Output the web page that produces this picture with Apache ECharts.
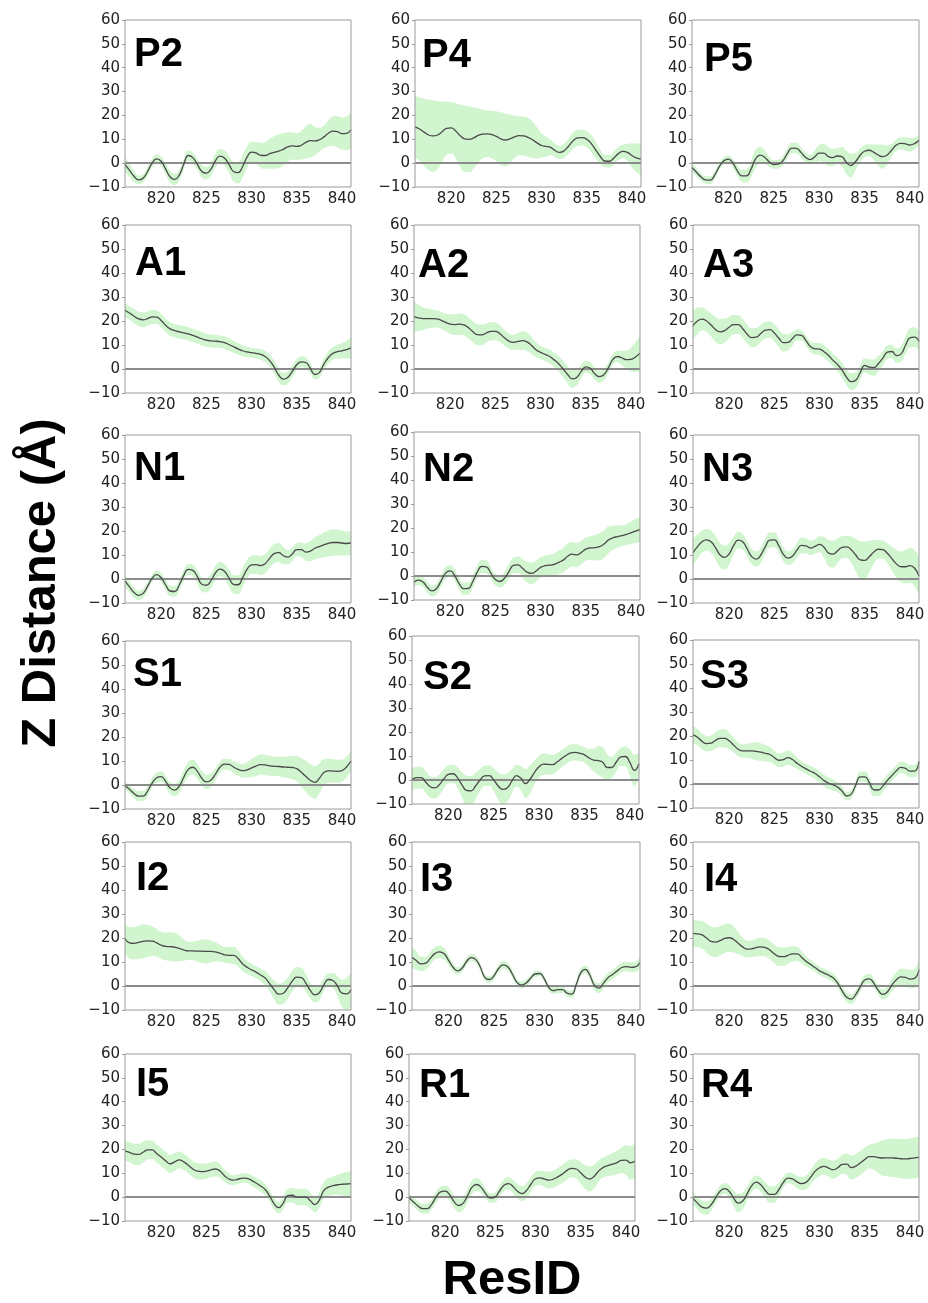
<!DOCTYPE html>
<html><head><meta charset="utf-8">
<script src="https://cdn.jsdelivr.net/npm/echarts@6/dist/echarts.min.js"></script>
<style>html,body{margin:0;padding:0;background:#fff}#c{width:928px;height:1303px}</style>
</head><body><div id="c"></div>
<script>
// ---------- data ----------
const resid = ['816','816.5','817','817.5','818','818.5','819','819.5','820','820.5',
 '821','821.5','822','822.5','823','823.5','824','824.5','825','825.5',
 '826','826.5','827','827.5','828','828.5','829','829.5','830','830.5',
 '831','831.5','832','832.5','833','833.5','834','834.5','835','835.5',
 '836','836.5','837','837.5','838','838.5','839','839.5','840','840.5','841'];
const xTicks = ['820','825','830','835','840'];
const yTicks = [-10, 0, 10, 20, 30, 40, 50, 60];
const panelNames = ['P2','P4','P5','A1','A2','A3','N1','N2','N3','S1','S2','S3','I2','I3','I4','I5','R1','R4'];

const P2_mean = [-0.5,-3,-5.5,-7,-6.3,-3.5,0,1.8,0.8,-2.5, -5.8,-6.8,-5,-0.5,3.2,2.3,-0.5,-3.5,-4.2,-2.5, 1,2.9,2.2,-0.5,-3.5,-4,-1.5,2.5,4.6,4.3, 3.3,3.2,4,4.5,5,5.8,6.8,7.2,7,7.5, 8.7,9.4,9.3,9.8,11,12.5,13.4,13.2,12.4,12.5, 14];
const P2_sd = [3,2.8,2.4,1.8,1.8,1.8,1.8,1.8,2,2.2, 2.4,2.4,2.3,2.2,2.1,2.2,2.4,2.6,2.7,2.8, 2.9,3,3.2,3.6,4.2,4.5,4.6,4.5,4.4,4.6, 5.2,5.6,6.2,6.8,7,6.8,6.2,5.8,5.6,6, 6.8,7,6,5,4.8,5.5,6.2,6.6,6.7,7, 7.5];

const P4_mean = [15.2,14.3,13,11.8,11.4,11.8,13.2,14.6,14.8,13.5, 11.5,10.2,10,10.6,11.6,12.2,12.3,12,11.2,10.2, 9.7,10.2,11,11.5,11.4,10.8,9.8,8.5,7.4,7, 6.6,5.3,4.5,5.2,7.2,9.4,10.6,10.7,10,8.2, 5.5,2.8,0.9,0.8,2.2,4,4.9,4.5,3.2,2.2, 1.7];
const P4_sd = [12.8,13.3,14,14.8,15,14.2,12.5,11.2,10.8,11.6, 13,14,13.8,12.8,11.4,10.2,9.8,10,10.5,11, 11,10.2,9,8.2,8.2,8.2,7.6,6.5,5,4.2, 3.2,2.8,2.8,3,3.2,3.4,3.4,3.3,3.4,3.6, 3.4,3,2.6,2.6,2.8,2.8,2.8,3.6,5,6, 7];

const P5_mean = [-1.8,-3.8,-5.8,-7,-7.1,-5,-1.5,1,1.7,0, -3.2,-5.3,-5.3,-2.5,1.8,3.4,2.5,0.6,-0.6,-0.4, 1,4,6.3,6.2,4.5,2.5,1.5,2.6,4.2,4.2, 2.8,2.3,3,2.7,0.3,-1,0.6,3.2,5,5.4, 4.6,3.4,2.7,3.4,5.5,7.6,8.3,8.1,7.6,8.2, 9.6];
const P5_sd = [1.6,1.6,1.6,1.6,1.6,1.6,1.5,1.5,1.5,1.8, 2.2,2.5,2.8,3.4,3.8,3.5,2.8,2.2,1.8,1.8, 2,2.2,2.2,2.2,2.1,2,2,2.6,3.4,3.8, 4,3.6,3.3,4,5,5,3.6,2.8,2.5,2.5, 3.2,4.4,5,4,2.6,2.4,2.6,2.8,2.8,2.5, 2.3];

const A1_mean = [24.5,23.3,22,20.9,20.5,21,21.7,21.6,20.2,18.2, 16.7,16,15.5,15.1,14.6,14,13.3,12.6,12,11.7, 11.6,11.4,11,10.2,9.3,8.4,7.6,7.1,6.8,6.5, 6.1,5.2,3.5,0.8,-2.5,-4.2,-3.5,-1,1.8,3, 2.7,0.3,-2.3,-1.5,2,4.8,6.5,7.2,7.6,8.1, 8.8];
const A1_sd = [2.8,2.8,2.9,3,3.1,3,2.9,2.8,2.8,2.8, 2.8,2.8,2.8,2.8,2.8,2.8,2.8,2.8,2.7,2.7, 2.7,2.6,2.6,2.6,2.5,2.4,2.3,2.2,2.1,2.1, 2.2,2.3,2.5,2.7,2.8,2.6,2.5,2.5,2.4,2.3, 2.2,2.1,2,2.1,2.3,2.5,2.6,2.8,3.2,3.7, 4.2];

const A2_mean = [21.8,21.3,21,21,21,20.9,20.3,19.4,18.7,18.5, 18.7,18.4,17.3,15.6,14.3,14.2,15,15.7,15.7,14.7, 13,11.6,11.1,11.5,11.8,11.3,9.8,8,6.9,6.1, 5.2,3.8,2.2,0,-2.3,-4.1,-3.5,-1,0.9,0.3, -2,-3.2,-2.4,0.5,4,5.2,4.6,3.9,4,5, 6.6];
const A2_sd = [6.3,5.5,4.7,4.2,3.8,3.6,3.5,3.7,4.1,4.3, 4.4,4.4,4.4,4.4,4.4,4.3,4,3.8,3.7,3.5, 3.3,3.2,3.2,3.5,3.9,3.9,3.5,3.1,2.8,2.8, 2.9,3,3.2,3.4,3.6,3.7,3.4,2.8,2.5,2.5, 2.5,2.5,2.4,2.2,2.2,2.4,3,3.8,5,6.2, 7.2];

const A3_mean = [18,20,20.8,20,18.3,16.4,15.5,16,17.4,18.5, 18.5,16.8,14.5,13.1,13.3,14.8,16.2,16.4,15,12.8, 11,11.1,12.7,14.2,14,11.8,9.3,8.4,8.3,7.2, 5.6,3.6,1.8,-0.5,-3.5,-5.3,-4.7,-1.5,1.5,0.8, 0.6,2.2,4.5,7,7.3,5.6,6.2,9.8,13,13.3, 11.5];
const A3_sd = [6,5.5,4.8,4.6,4.8,5.2,5.3,5,4.5,4, 3.9,3.9,3.9,3.9,3.8,3.6,3.5,3.5,3.6,3.7, 3.7,3.4,2.8,2.3,2.1,2.1,2.3,2.4,2.5,2.6, 2.6,2.7,2.9,3.1,3.3,3.5,3.3,3,3,3.2, 3.4,3.2,2.9,2.8,2.8,3,3.3,3.6,4,4.1, 4.2];

const N1_mean = [-0.8,-3.3,-5.6,-6.8,-6,-3,0.3,1.8,0.5,-2.5, -5,-5.2,-2.5,1.5,4,3.6,1,-2.2,-2.6,-0.8, 2.5,4.1,3.2,0.5,-2.2,-2.4,0.5,4,5.9,6, 5.6,6.4,8.6,10.6,11,9.8,9.1,10.4,12.2,12.2, 11.2,11.6,12.8,13.5,14.2,14.8,15.2,15.2,15,14.8, 15];
const N1_sd = [2.4,2.3,2.1,2,1.9,1.8,1.7,1.7,1.9,2.1, 2.2,2.2,2.2,2.2,2.2,2.4,2.7,3,3,3, 3,3,3.2,3.5,3.8,3.9,3.9,3.8,3.8,3.9, 4,4,4,4,4,3.5,3,2.8,2.7,3, 3.6,4.2,4.6,4.8,5.2,5.4,5.5,5.4,5.2,5, 5];

const N2_mean = [-2.6,-1.7,-2.5,-4.8,-6.2,-5.2,-2,1.2,2.1,0.2, -3.2,-5.3,-5.2,-2.3,1.6,4,3.8,1.2,-1.5,-2.3, -1,1.8,4.4,4.6,3.2,1.6,1.1,2.1,3.6,4.3, 4.5,4.8,5.7,6.6,8.2,9.1,8.8,9.8,11.2,11.7, 11.8,12.2,13.2,15,15.9,16.4,16.8,17.3,18,18.7, 19.3];
const N2_sd = [2,2,2.1,2.2,2.3,2.3,2.3,2.4,2.4,2.4, 2.5,2.5,2.5,2.6,2.7,2.8,2.8,2.6,2.4,2.5, 2.8,3.1,3.3,3.5,3.9,4.3,4.5,4.4,4.2,4.2, 4.4,4.6,4.9,5.1,5.2,5.1,5,4.9,4.8,5, 5.3,5.6,5.8,5.6,5,4.6,4.3,4.4,4.7,5, 5.2];

const N3_mean = [11,13.5,15.5,16.3,15.5,13,10,9,10.5,14, 16.2,15.5,12.5,9.3,8.3,10,13.5,16.2,16.3,13.8, 10.3,8.7,9.5,12,14,13.8,12.9,13.6,14.4,13.2, 10.8,10.4,11.8,13.2,13.4,12.2,10,8,7.8,9.3, 11.2,12.4,12.2,10.7,8.5,6.3,5.1,5.1,5.6,4.6, 1.2];
const N3_sd = [5.5,5,4.6,4.5,4.6,4.9,5.1,5,4.5,3.8, 3.4,3.3,3.2,3.2,3.2,3.2,3.2,3.2,3.1,3, 2.9,2.8,2.9,3.1,3.3,3.2,3,3,3.4,4.4, 5.4,5.6,5.2,4.6,4.6,5.5,6.8,7.8,7.8,6.5, 5,4,3.8,4.2,5,5.8,6.4,7,7.3,7.6, 8];

const S1_mean = [-0.3,-1.8,-3.5,-4.6,-4.6,-2.5,0.8,3,3.5,1.5, -1.3,-2.1,-0.5,3.2,6.5,7.4,5.7,2.8,1.3,2, 4.5,7.4,8.7,8.6,7.5,6.5,6,6.3,7.1,7.9, 8.5,8.4,8,7.8,7.7,7.5,7.4,7.3,6.8,5.3, 3.6,2,1.1,2.8,5.2,5.9,5.8,5.7,6,7.5, 10];
const S1_sd = [1.6,1.7,1.9,2.1,2.1,2.1,2.1,2.1,2.1,2.3, 2.5,2.6,2.8,3,3.1,3.1,3.1,3,3,2.8, 2.5,2.3,2.2,2.3,2.5,2.7,2.8,3.2,3.7,4.1, 4.2,4.2,4.1,4.1,4.1,4.3,4.6,4.9,5.3,5.9, 6.4,6.8,6.8,6.2,5.5,5,4.9,4.8,4.6,4.4, 4.3];

const S2_mean = [0.2,1,1,-0.8,-2.8,-3.3,-2,0.4,2.3,2.6, 1,-2,-4.3,-4.5,-2.5,0,1.7,1.8,0,-2.5, -3.9,-3.2,-0.5,1.8,0.7,-1.5,0.3,3.2,5.5,6.6, 6.5,6.4,7.6,9,10.3,11.3,11.5,11.1,10.5,9.2, 8.3,8.1,7.4,5.2,5.2,7.5,9.6,9.8,7.2,4, 6.8];
const S2_sd = [4.5,4.5,4.5,4.5,4.5,4.5,4.3,4,3.8,3.8, 4.3,5.3,6.2,6.2,5.5,4.6,4.3,4.3,4.8,5.6, 6.2,6,5,4.5,5,6,5.8,5,4.6,4.5, 4.3,4,3.8,3.6,3.5,3.5,3.4,3.3,3.3,3.8, 4.8,6,6.3,5.5,4.5,4,3.8,4.2,5.5,6.6, 4.5];

const S3_mean = [20.6,19.5,17.8,16.8,17,18.2,19,19,18,16.2, 14.5,13.8,13.8,13.8,13.6,13.3,12.8,12.3,11,9.9, 10.2,11,10.2,8.7,7.4,6.3,5.3,4.4,3,1.4, 0.3,-0.4,-1.3,-3,-5,-4.2,-0.5,3,3,0.6, -2.4,-2.5,-0.8,1.5,3.5,5.5,6.9,6.5,5.4,5.4, 9.3];
const S3_sd = [3.6,3.5,3.3,3.2,3.3,3.5,3.7,3.8,3.5,3.1, 2.9,2.8,3,3.4,3.8,3.7,3.4,3.1,2.9,2.8, 2.9,3,2.8,2.4,2.1,2.1,2.2,2.3,2.4,2.5, 2.5,2.3,2.1,1.9,1.8,1.8,2,2.1,2.2,2.4, 2.5,2.5,2.5,2.4,2.3,2.3,2.4,2.5,2.6,2.6, 2.6];

const I2_mean = [19.8,18,17.8,18.2,18.6,18.8,18.7,18,17,16.5, 16.4,16.2,15.7,15,14.6,14.6,14.5,14.5,14.4,14.4, 14.2,13.7,13,12.8,12.8,11.5,9.3,7.8,6.7,5.8, 4.6,3.3,1,-1.5,-3.4,-3,-0.8,2,3.7,3.5, 1.2,-1.8,-3.7,-2.8,0.5,2.7,2.3,0,-3,-3.3, -1.5];
const I2_sd = [6.2,6.5,6.7,6.9,7,6.7,6.2,5.8,5.6,5.8, 6,6,5.4,4.5,3.8,3.9,4.4,4.9,5,4.6, 4,3.5,3.3,3.4,3.6,3.4,3,2.7,2.5,2.5, 2.7,2.9,3.3,3.9,4.4,4.5,4.4,4.3,4.2,4, 3.6,3.3,3.2,3,2.7,2.5,3,4.2,5.6,6.8, 7];

const I3_mean = [12,10.5,9.2,9.5,11.5,13.5,14.2,13.5,10.8,7.8, 6.3,7.5,10.3,11.8,11,7.8,3.5,2.7,4.3,7.3, 8.8,8,5,1.5,0.4,1.2,3.2,5,5.2,3, -0.6,-1.9,-1.5,-1.5,-3,-3.4,0.5,5.5,6.9,4.5, 0.3,-0.9,1.2,3.5,4.8,6.3,7.7,8.1,7.8,8, 9.8];
const I3_sd = [4.5,3.8,3,2.7,2.6,2.6,2.6,2.4,2,1.7, 1.5,1.5,1.5,1.5,1.5,1.5,1.4,1.4,1.5,1.6, 1.6,1.6,1.5,1.5,1.5,1.4,1.3,1.2,1.2,1.3, 1.4,1.4,1.4,1.4,1.4,1.5,1.6,1.6,1.6,1.8, 2,2.1,2,2,2,2,2,2,2.1,2.2, 2.3];

const I4_mean = [21.9,21.7,21.3,20,18.6,18.3,18.9,19.8,20.1,19.4, 17.8,16.3,15.4,15.5,16,16.3,16,15,13.4,12.3, 12.2,12.8,13.4,13.4,12,10.3,9,7.7,6.3,5.4, 4.5,3.4,1.2,-2,-4.7,-5.5,-3.6,-0.4,2.5,3, 1.2,-1.8,-3.5,-2.5,0.4,2.6,3.8,3.6,2.9,3.2, 6.8];
const I4_sd = [5.5,5.6,5.8,6,6.2,6.2,6.1,6,5.9,5.4, 4.6,3.9,3.5,3.5,3.7,3.8,3.8,3.8,3.9,3.9, 3.8,3.5,3.2,3,2.6,2.2,1.9,1.8,1.8,1.8, 1.8,1.8,1.9,2,2,2,2,2,2,2, 2,2,2.1,2.3,2.7,3.1,3.4,3.6,3.8,4, 4.3];

const I5_mean = [19.4,18.8,18,17.9,18.8,19.8,19.8,18.3,16.8,15.2, 14,14.8,15.6,14.8,13.4,11.8,10.9,10.7,10.9,11.4, 11.8,11,9,7.6,7.1,7.5,8,7.9,7,5.9, 4.7,3.2,0.5,-2.8,-4.4,-2.5,0.6,0.8,0,0, 0,-1.5,-3.1,-1.2,2.8,4.2,4.8,5.2,5.4,5.5, 5.7];
const I5_sd = [4,4.2,4.4,4.5,4.3,4,3.8,3.8,3.8,3.8, 3.8,3.7,3.5,3.4,3.4,3.4,3.4,3.3,3.2,3.1, 3.1,2.9,2.6,2.3,2.1,2,2,2,2.2,2.3, 2.4,2.4,2.4,2.4,2.4,2.6,2.8,3,3.3,3.5, 3.5,3.3,3.2,3.3,3.5,3.7,3.9,4.2,4.6,5, 5.3];

const R1_mean = [-0.3,-2,-3.7,-4.8,-4.8,-3,0,2.2,2.5,1, -2,-3.5,-2.5,0.8,4.3,5.3,4,1.4,-0.4,0, 2.5,5,5.7,4.5,2.5,1.5,2.8,5.5,7.7,8.1, 7.6,7.1,7.6,8.6,9.8,11.2,12.1,11.8,10.2,8.4, 7.6,8.8,11,12.5,13.2,13.8,14.5,15.4,15.5,14.4, 15.2];
const R1_sd = [1.8,1.9,2,2,2.1,2.2,2.3,2.3,2.3,2.5, 2.7,2.8,2.8,2.8,2.8,2.7,2.4,2.1,2,2.1, 2.3,2.5,2.6,2.8,3.1,3.2,3.1,3,2.9,3, 3.3,3.5,3.6,3.7,3.8,3.8,3.8,4,4.5,5, 5.2,4.9,4.4,4.2,4.4,4.7,4.9,5.4,6.2,7, 7.5];

const R4_mean = [-0.5,-2.5,-4.2,-4.6,-3.2,-0.3,2.5,3.6,2.5,-0.4, -2.5,-1.6,1.5,4.8,6.3,5.2,2.8,1.2,1.2,3.2, 6.2,8,7.7,6.4,5.7,6.2,8.3,10.8,12.3,12.9, 12.2,11.5,12.3,13.7,13.8,12.4,13,14.3,15.8,17, 17,16.6,16.4,16.5,16.5,16.3,16.1,16,16.2,16.5, 16.7];
const R4_sd = [2.5,2.6,2.8,2.8,2.6,2.4,2.2,2.2,2.6,3.3, 3.8,3.6,3,2.8,2.8,3,3.3,3.5,3.4,2.8, 2.3,2.2,2.4,2.6,2.8,2.9,3.1,3.3,3.5,3.5, 3.6,3.8,3.8,4,4.5,5,5,5,5,5, 5.5,6.5,7.4,7.8,8,8.2,8.3,8.4,8.5,8.6, 8.7];

const means = [P2_mean,P4_mean,P5_mean,A1_mean,A2_mean,A3_mean,N1_mean,N2_mean,N3_mean,S1_mean,S2_mean,S3_mean,I2_mean,I3_mean,I4_mean,I5_mean,R1_mean,R4_mean];
const sds = [P2_sd,P4_sd,P5_sd,A1_sd,A2_sd,A3_sd,N1_sd,N2_sd,N3_sd,S1_sd,S2_sd,S3_sd,I2_sd,I3_sd,I4_sd,I5_sd,R1_sd,R4_sd];

// ---------- layout (pixels): grid [left, top, width, height], label [left, capTop] ----------
const layout = [
 {g:[125,20,226,167],  lab:[135,38]},
 {g:[415,20,226,167],  lab:[423,39]},
 {g:[692,20,227,167],  lab:[705,43]},
 {g:[125,225,226,168], lab:[136,247]},
 {g:[414,225,226,168], lab:[419,249]},
 {g:[693,225,226,168], lab:[704,249]},
 {g:[125,435,226,168], lab:[135,452]},
 {g:[414,432,226,168], lab:[424,453]},
 {g:[693,435,226,168], lab:[703,453]},
 {g:[125,641,226,168], lab:[134,658]},
 {g:[412,636,227,168], lab:[424,661]},
 {g:[693,640,226,168], lab:[701,660]},
 {g:[125,842,226,168], lab:[137,862]},
 {g:[412,842,228,168], lab:[421,863]},
 {g:[693,842,226,168], lab:[705,863]},
 {g:[125,1054,226,167],lab:[137,1068]},
 {g:[409,1054,226,167],lab:[420,1069]},
 {g:[693,1054,226,167],lab:[702,1069]}
];

// ---------- styles ----------
const BAND = '#d1f5ce';
const LINE = '#4a4a4a';
const ZERO = '#8c8c8c';
const FRAME = '#9a9a9a';
const TXT = '#222';
const TICKFONT = 'DejaVu Sans';

const grids = [], xAxes = [], yAxes = [], series = [], graphics = [];
layout.forEach((l, i) => {
  grids.push({left:l.g[0], top:l.g[1], width:l.g[2], height:l.g[3], show:true,
    borderColor:FRAME, borderWidth:1, backgroundColor:'rgba(0,0,0,0)', z:10});
  xAxes.push({type:'category', gridIndex:i, data:resid, boundaryGap:false,
    axisLine:{show:false}, axisTick:{show:false}, splitLine:{show:false},
    axisLabel:{interval:(idx, v) => xTicks.indexOf(v) >= 0, fontSize:15, color:TXT, fontFamily:TICKFONT, margin:5}});
  yAxes.push({type:'value', gridIndex:i, min:yTicks[0], max:yTicks[yTicks.length-1], interval:10,
    axisLine:{show:false}, axisTick:{show:true, length:3, lineStyle:{color:FRAME}}, splitLine:{show:false},
    axisLabel:{fontSize:15, color:TXT, fontFamily:TICKFONT, margin:5,
      formatter: v => v < 0 ? '\u2212' + Math.abs(v) : String(v)}});
  const m = means[i], s = sds[i];
  const lo = m.map((v, j) => +(v - s[j]).toFixed(3));
  const w = s.map(v => +(2 * v).toFixed(3));
  series.push({type:'line', xAxisIndex:i, yAxisIndex:i, data:lo, stack:'band'+i, stackStrategy:'all',
    smooth:true, symbol:'none', silent:true, lineStyle:{width:0, opacity:0}, z:1});
  series.push({type:'line', xAxisIndex:i, yAxisIndex:i, data:w, stack:'band'+i, stackStrategy:'all',
    smooth:true, symbol:'none', silent:true, lineStyle:{width:0, opacity:0},
    areaStyle:{color:BAND, opacity:1}, z:1,
    markLine:{silent:true, symbol:'none', z:2, label:{show:false}, animation:false,
      lineStyle:{color:ZERO, width:2, type:'solid'}, data:[{yAxis:0}]}});
  series.push({type:'line', xAxisIndex:i, yAxisIndex:i, data:m, smooth:true, symbol:'none', silent:true,
    lineStyle:{color:LINE, width:1.3}, z:3});
  graphics.push({type:'text', x:l.lab[0]-1, y:l.lab[1]+16.5, z:20,
    style:{text:panelNames[i], font:'bold 40px "Liberation Sans", Arial, sans-serif', fill:'#000',
      align:'left', verticalAlign:'middle'}});
});
graphics.push({type:'text', x:41, y:583, rotation:Math.PI/2, z:20,
  style:{text:'Z Distance (Å)', font:'bold 49px "Liberation Sans", Arial, sans-serif', fill:'#000', align:'center', verticalAlign:'middle'}});
graphics.push({type:'text', x:512, y:1280, z:20,
  style:{text:'ResID', font:'bold 49px "Liberation Sans", Arial, sans-serif', fill:'#000', align:'center', verticalAlign:'middle'}});

const chart = echarts.init(document.getElementById('c'), null, {renderer:'canvas', width:928, height:1303});
chart.setOption({
  animation:false,
  backgroundColor:'#fff',
  grid:grids, xAxis:xAxes, yAxis:yAxes, series:series,
  graphic:{elements:graphics}
});
</script></body></html>
